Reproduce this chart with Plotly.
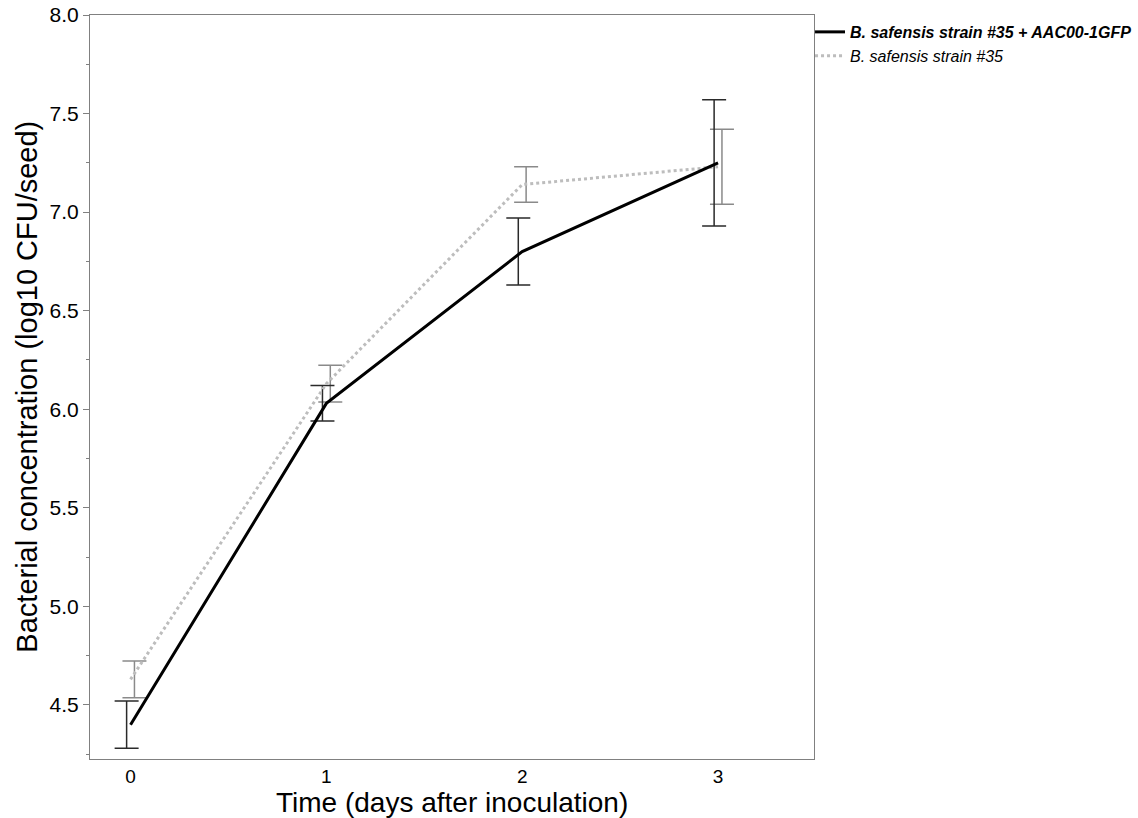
import plotly.graph_objects as go

# Sampling days and mean bacterial loads (log10 CFU/seed) with error half-widths
days = [0, 1, 2, 3]
tick_labels = ["0", "1", "2", "3"]

gfp_name = "<b><i>B. safensis strain #35 + AAC00-1GFP</i></b>"
gfp_mean = [4.40, 6.03, 6.80, 7.25]
gfp_err = [0.12, 0.09, 0.17, 0.32]

wt_name = "<i>B. safensis strain #35</i>"
wt_mean = [4.63, 6.13, 7.14, 7.23]
wt_err = [0.093, 0.093, 0.09, 0.19]

x_title = "Time (days after inoculation)"
y_title = "Bacterial concentration (log10 CFU/seed)"

# small horizontal dodge so the two sets of error bars do not overlap
DODGE = 0.02

fig = go.Figure()

# error bars (drawn as marker-less traces, dodged left/right of the points)
fig.add_trace(go.Scatter(
    x=[d + DODGE for d in days], y=wt_mean, mode="markers",
    marker=dict(size=0.1, color="rgba(0,0,0,0)"),
    error_y=dict(type="data", array=wt_err, visible=True,
                 color="#8a8a8a", thickness=1.5, width=12),
    showlegend=False, hoverinfo="skip"))
fig.add_trace(go.Scatter(
    x=[d - DODGE for d in days], y=gfp_mean, mode="markers",
    marker=dict(size=0.1, color="rgba(0,0,0,0)"),
    error_y=dict(type="data", array=gfp_err, visible=True,
                 color="#2a2a2a", thickness=1.5, width=12),
    showlegend=False, hoverinfo="skip"))

# mean lines: dotted one first so the solid line sits on top
fig.add_trace(go.Scatter(
    x=days, y=wt_mean, mode="lines", name=wt_name,
    line=dict(color="#bdbdbd", width=3, dash="dot")))
fig.add_trace(go.Scatter(
    x=days, y=gfp_mean, mode="lines", name=gfp_name,
    line=dict(color="#000000", width=3)))

font = "Liberation Sans, Arial, Helvetica, sans-serif"

fig.update_layout(
    width=1138, height=818,
    margin=dict(l=90, r=324, t=15, b=59, autoexpand=False),
    plot_bgcolor="white", paper_bgcolor="white",
    font=dict(family=font, color="black"),
    showlegend=True,
    legend=dict(xref="container", yref="container",
                x=0.7118, xanchor="left", y=0.9817, yanchor="top",
                traceorder="reversed",
                font=dict(size=16, family=font, color="black"),
                itemwidth=30, tracegroupgap=0,
                bgcolor="rgba(0,0,0,0)"),
    xaxis=dict(
        range=[-0.207, 3.49], automargin=False,
        tickmode="array", tickvals=days, ticktext=tick_labels,
        ticks="", showgrid=False, zeroline=False,
        showline=True, mirror=True, linecolor="#808080", linewidth=1,
        tickfont=dict(size=19),
    ),
    yaxis=dict(
        range=[4.226, 8.0], automargin=False,
        tickmode="linear", tick0=4.5, dtick=0.5, tickformat=".1f",
        ticks="outside", ticklen=6, tickcolor="#808080", tickwidth=1,
        minor=dict(tick0=4.25, dtick=0.25, ticks="outside", ticklen=3,
                   tickcolor="#808080", tickwidth=1, showgrid=False),
        showgrid=False, zeroline=False,
        showline=True, mirror=True, linecolor="#808080", linewidth=1,
        tickfont=dict(size=21),
    ),
    annotations=[
        dict(text=x_title, xref="paper", yref="paper",
             x=0.5, y=-0.058, xanchor="center", yanchor="middle",
             showarrow=False, font=dict(size=28, color="black")),
        dict(text=y_title, xref="paper", yref="paper",
             x=-0.0875, y=0.5, xanchor="center", yanchor="middle",
             textangle=-90, showarrow=False,
             font=dict(size=29, color="black")),
    ],
)

fig.write_html("out.html")
